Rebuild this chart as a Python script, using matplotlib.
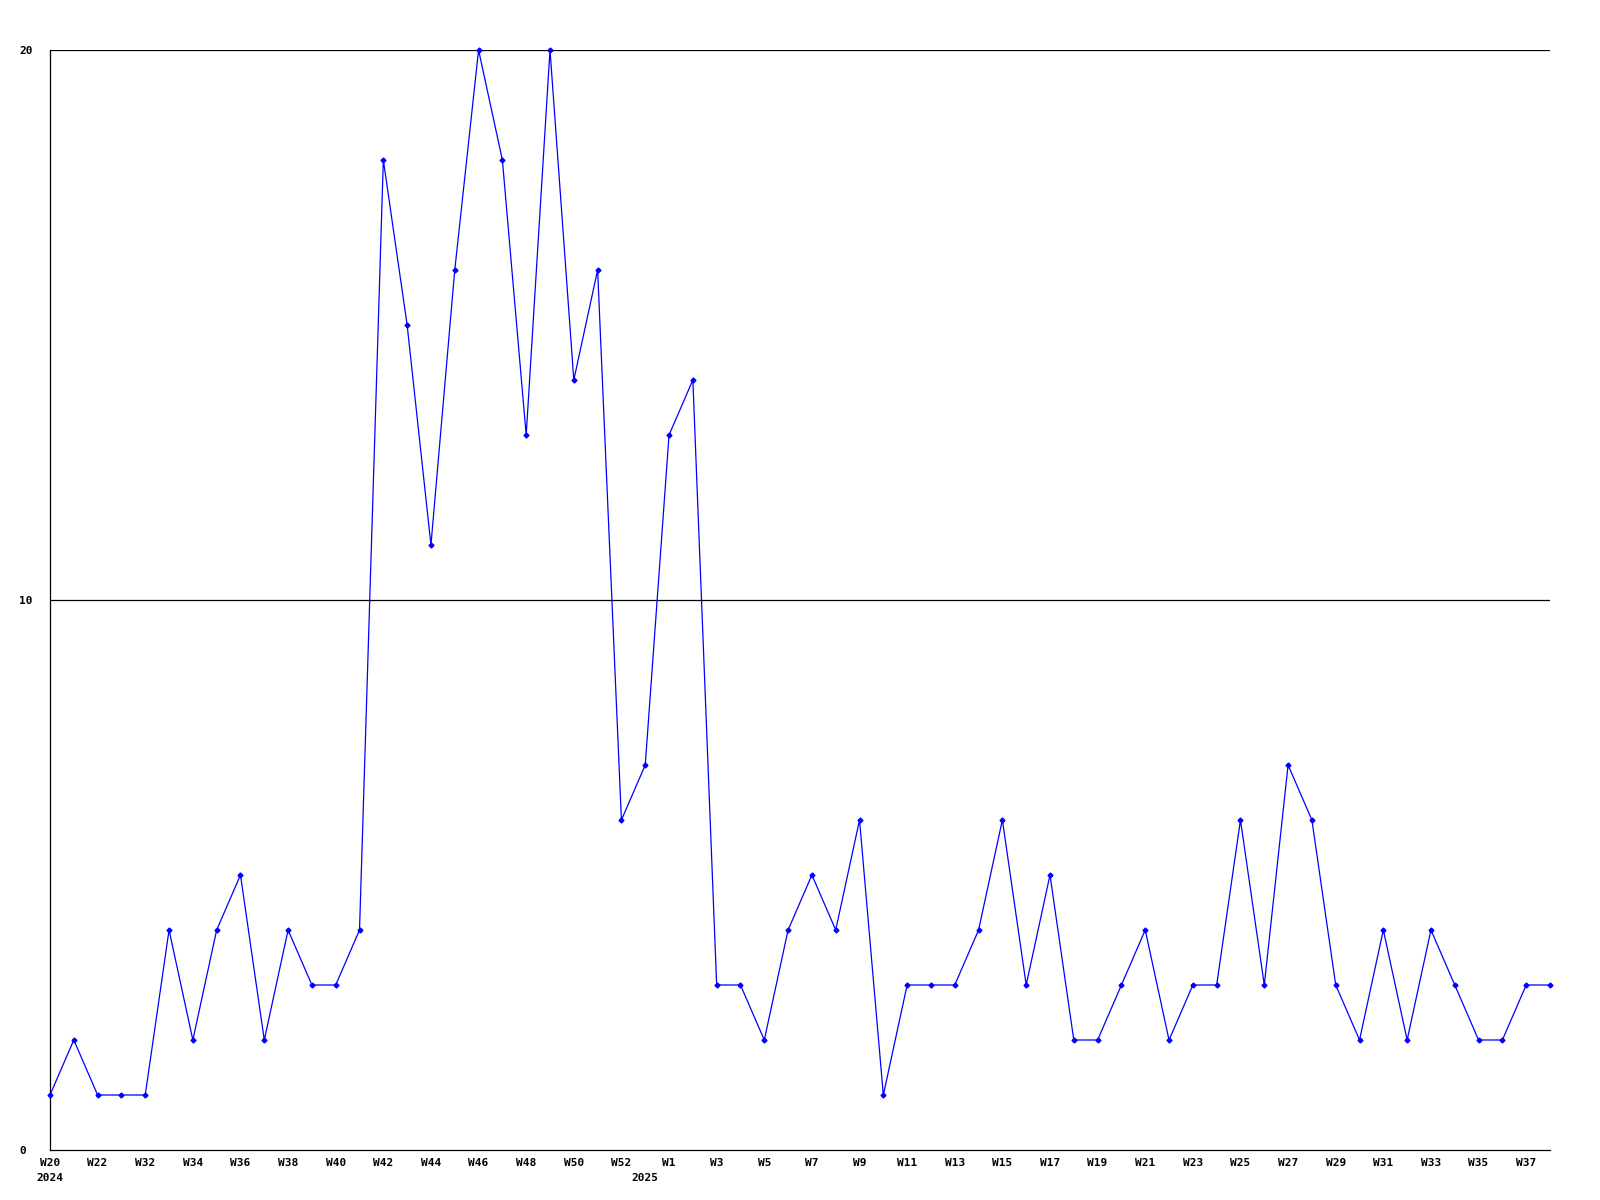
import matplotlib
matplotlib.use("Agg")
import matplotlib.pyplot as plt

# week labels (index 25 sits between W52 and W1, not labelled on the axis)
weeks = ["W20", "W21", "W22", "W31", "W32", "W33", "W34", "W35", "W36", "W37",
         "W38", "W39", "W40", "W41", "W42", "W43", "W44", "W45", "W46", "W47",
         "W48", "W49", "W50", "W51", "W52", "W53", "W1", "W2", "W3", "W4",
         "W5", "W6", "W7", "W8", "W9", "W10", "W11", "W12", "W13", "W14",
         "W15", "W16", "W17", "W18", "W19", "W20", "W21", "W22", "W23", "W24",
         "W25", "W26", "W27", "W28", "W29", "W30", "W31", "W32", "W33", "W34",
         "W35", "W36", "W37", "W38"]

values = [1, 2, 1, 1, 1, 4, 2, 4, 5, 2,
          4, 3, 3, 4, 18, 15, 11, 16, 20, 18,
          13, 20, 14, 16, 6, 7, 13, 14, 3, 3,
          2, 4, 5, 4, 6, 1, 3, 3, 3, 4,
          6, 3, 5, 2, 2, 3, 4, 2, 3, 3,
          6, 3, 7, 6, 3, 2, 4, 2, 4, 3,
          2, 2, 3, 3]

year_pos = [0, 25]
year_text = ["2024", "2025"]

y_ticks = [0, 10, 20]

mono = "DejaVu Sans Mono"
fsize = 8

fig = plt.figure(figsize=(16, 12), dpi=100)
ax = fig.add_axes([50 / 1600, 1 - 1150 / 1200, 1500 / 1600, 1100 / 1200])

x = list(range(len(values)))
ax.plot(x, values, color="#0000ff", linewidth=0.9, marker="D", markersize=2.5,
        clip_on=False, zorder=3)

ax.set_xlim(0, len(values) - 1)
ax.set_ylim(0, 20)

# grid lines at 10 and 20
for v in y_ticks[1:]:
    ax.axhline(v, color="black", linewidth=0.9, zorder=1)

ax.spines["top"].set_visible(False)
ax.spines["right"].set_visible(False)
ax.spines["left"].set_linewidth(0.9)
ax.spines["bottom"].set_linewidth(0.9)

ax.set_xticks(x[::2])
ax.set_xticklabels(weeks[::2], fontfamily=mono, fontweight="bold", fontsize=fsize)
ax.tick_params(axis="x", length=0, pad=6)

ax.set_yticks(y_ticks)
ax.set_yticklabels([str(t) for t in y_ticks], fontfamily=mono, fontweight="bold",
                   fontsize=fsize)
ax.tick_params(axis="y", length=0, pad=22)
for lbl in ax.get_yticklabels():
    lbl.set_horizontalalignment("left")

for pos, txt in zip(year_pos, year_text):
    ax.annotate(txt, xy=(pos, 0), xycoords=("data", "axes fraction"),
                xytext=(0, -23), textcoords="offset pixels", ha="center", va="top",
                fontfamily=mono, fontweight="bold", fontsize=fsize)

fig.savefig("out.png", dpi=100)
